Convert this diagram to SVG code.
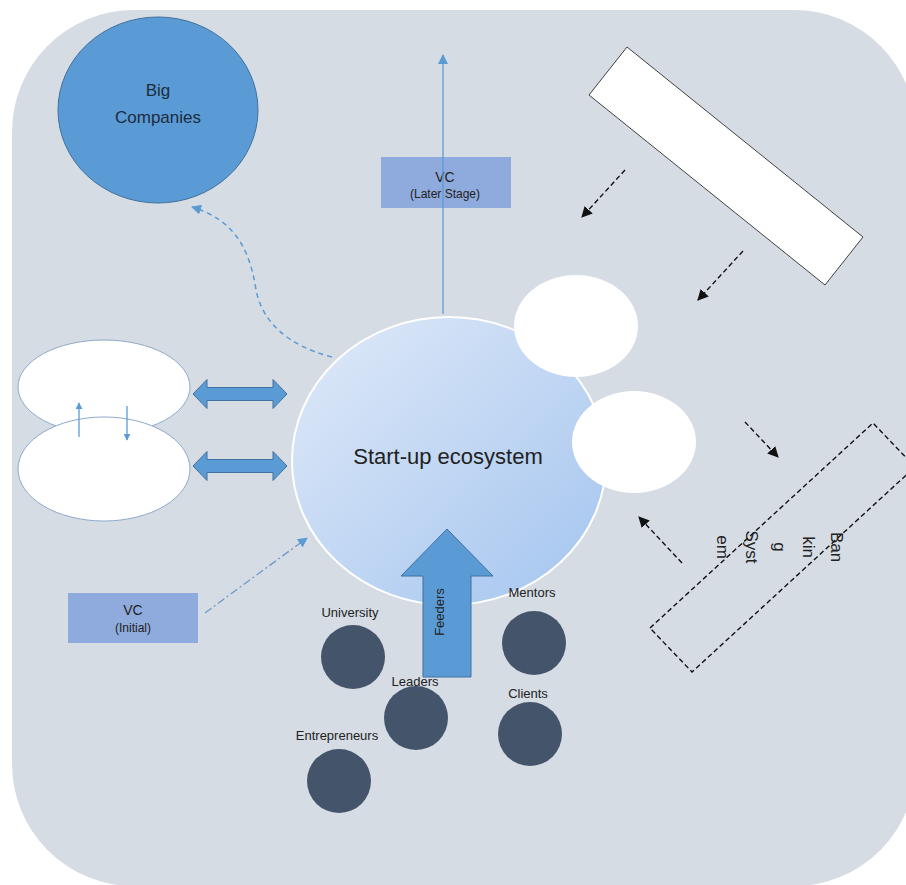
<svg xmlns="http://www.w3.org/2000/svg" width="906" height="885" viewBox="0 0 906 885">
<defs>
<style>
text{font-family:"Liberation Sans",Arial,sans-serif;fill:#222}
.lbl{font-size:13px;text-anchor:middle}
.dark{fill:#44546a}
.vc{fill:#8faadc}
.blk{fill:none;stroke:#111;stroke-width:1.4;stroke-dasharray:5 3}
.wov{fill:#fff;stroke:#8eaacc;stroke-width:1}
.dbl{fill:#5b9bd5;stroke:#41719c;stroke-width:1}
</style>
<linearGradient id="eco" x1="0" y1="0" x2="1" y2="1">
<stop offset="0" stop-color="#e0eaf8"/>
<stop offset="1" stop-color="#a3c4ef"/>
</linearGradient>
<marker id="ab" viewBox="0 0 10 10" refX="9" refY="5" markerWidth="7" markerHeight="7" markerUnits="userSpaceOnUse" orient="auto"><path d="M0,0 L10,5 L0,10 z" fill="#5b9bd5"/></marker>
<marker id="ab2" viewBox="0 0 10 10" refX="9" refY="5" markerWidth="10" markerHeight="10" markerUnits="userSpaceOnUse" orient="auto"><path d="M0,0 L10,5 L0,10 z" fill="#5b9bd5"/></marker>
<marker id="ak" viewBox="0 0 10 10" refX="9" refY="5" markerWidth="11" markerHeight="11" markerUnits="userSpaceOnUse" orient="auto"><path d="M0,0 L10,5 L0,10 z" fill="#111"/></marker>
</defs>
<rect x="0" y="0" width="906" height="885" fill="#fff"/>
<rect x="12" y="10" width="904" height="876" rx="122" ry="122" fill="#d6dce4"/>

<g id="big-companies">
<ellipse cx="158" cy="110" rx="100" ry="93" fill="#5b9bd5" stroke="#41719c" stroke-width="1"/>
<text x="158" y="96" font-size="17" text-anchor="middle" style="fill:#1c2c3c">Big</text>
<text x="158" y="123" font-size="17" text-anchor="middle" style="fill:#1c2c3c">Companies</text>
</g>

<g id="vc-later">
<rect class="vc" x="381" y="157" width="130" height="51"/>
<text x="445" y="182" font-size="14" text-anchor="middle">VC</text>
<text x="445" y="198" font-size="12" text-anchor="middle">(Later Stage)</text>
</g>

<g id="top-bar">
<polygon points="627,47 863,237 825,285 589,95" fill="#fff" stroke="#404040" stroke-width="1"/>
</g>

<g id="left-ellipses">
<ellipse class="wov" cx="104" cy="387" rx="86" ry="47"/>
<ellipse class="wov" cx="104" cy="469" rx="86" ry="52"/>
</g>

<g id="startup-ecosystem">
<ellipse cx="449" cy="461" rx="157" ry="144" fill="url(#eco)" stroke="#fff" stroke-width="2"/>
<text x="448" y="464" font-size="22" text-anchor="middle">Start-up ecosystem</text>
</g>

<g id="white-circle-1"><ellipse cx="576" cy="326" rx="62" ry="51" fill="#fff"/></g>
<g id="white-circle-2"><ellipse cx="634" cy="442" rx="62" ry="51" fill="#fff"/></g>

<g id="banking-system">
<polygon points="650,628 873,423 915,467 692,672" fill="none" stroke="#111" stroke-width="1.4" stroke-dasharray="5 3"/>
<g transform="translate(831,547) rotate(90)">
<text font-size="17" text-anchor="middle"><tspan x="0" y="0">Ban</tspan><tspan x="0" y="28.5">kin</tspan><tspan x="0" y="57">g</tspan><tspan x="0" y="85.5">Syst</tspan><tspan x="0" y="114">em</tspan></text>
</g>
</g>

<g id="vc-initial">
<rect class="vc" x="68" y="593" width="130" height="50"/>
<text x="133" y="615" font-size="14" text-anchor="middle">VC</text>
<text x="133" y="632" font-size="12" text-anchor="middle">(Initial)</text>
</g>

<g id="feeders">
<polygon points="423,677 423,576 401,576 447,529 493,576 471,576 471,677" fill="#5b9bd5" stroke="#41719c" stroke-width="1"/>
<text transform="translate(444,612) rotate(-90)" font-size="13" text-anchor="middle">Feeders</text>
</g>

<g id="university"><circle class="dark" cx="353" cy="657" r="32"/><text class="lbl" x="350" y="617">University</text></g>
<g id="leaders"><circle class="dark" cx="416" cy="718" r="32"/><text class="lbl" x="415" y="686">Leaders</text></g>
<g id="entrepreneurs"><circle class="dark" cx="339" cy="781" r="32"/><text class="lbl" x="337" y="740">Entrepreneurs</text></g>
<g id="mentors"><circle class="dark" cx="534" cy="643" r="32"/><text class="lbl" x="532" y="597">Mentors</text></g>
<g id="clients"><circle class="dark" cx="530" cy="734" r="32"/><text class="lbl" x="528" y="698">Clients</text></g>

<g id="connectors">
<line x1="443" y1="314" x2="443" y2="55" stroke="#5b9bd5" stroke-width="1.3" marker-end="url(#ab2)"/>
<path d="M332,357 C285,345 262,320 256,290 C250,250 235,220 192,207" fill="none" stroke="#5b9bd5" stroke-width="1.5" stroke-dasharray="5 4" marker-end="url(#ab2)"/>
<line x1="205" y1="613" x2="307" y2="538" stroke="#6d99c9" stroke-width="1.3" stroke-dasharray="8 3 2 3" marker-end="url(#ab2)"/>
<line x1="79" y1="437" x2="79" y2="403" stroke="#5b9bd5" stroke-width="1.3" marker-end="url(#ab)"/>
<line x1="127" y1="406" x2="127" y2="440" stroke="#5b9bd5" stroke-width="1.3" marker-end="url(#ab)"/>
<polygon class="dbl" points="193,394 207,379.5 207,387.5 273,387.5 273,379.5 287,394 273,408.5 273,400.5 207,400.5 207,408.5"/>
<polygon class="dbl" points="193,466 207,451.5 207,459.5 273,459.5 273,451.5 287,466 273,480.5 273,472.5 207,472.5 207,480.5"/>
<line class="blk" x1="625" y1="170" x2="582" y2="217" marker-end="url(#ak)"/>
<line class="blk" x1="743" y1="251" x2="698" y2="300" marker-end="url(#ak)"/>
<line class="blk" x1="745" y1="422" x2="778" y2="457" marker-end="url(#ak)"/>
<line class="blk" x1="682" y1="563" x2="639" y2="517" marker-end="url(#ak)"/>
</g>
</svg>
